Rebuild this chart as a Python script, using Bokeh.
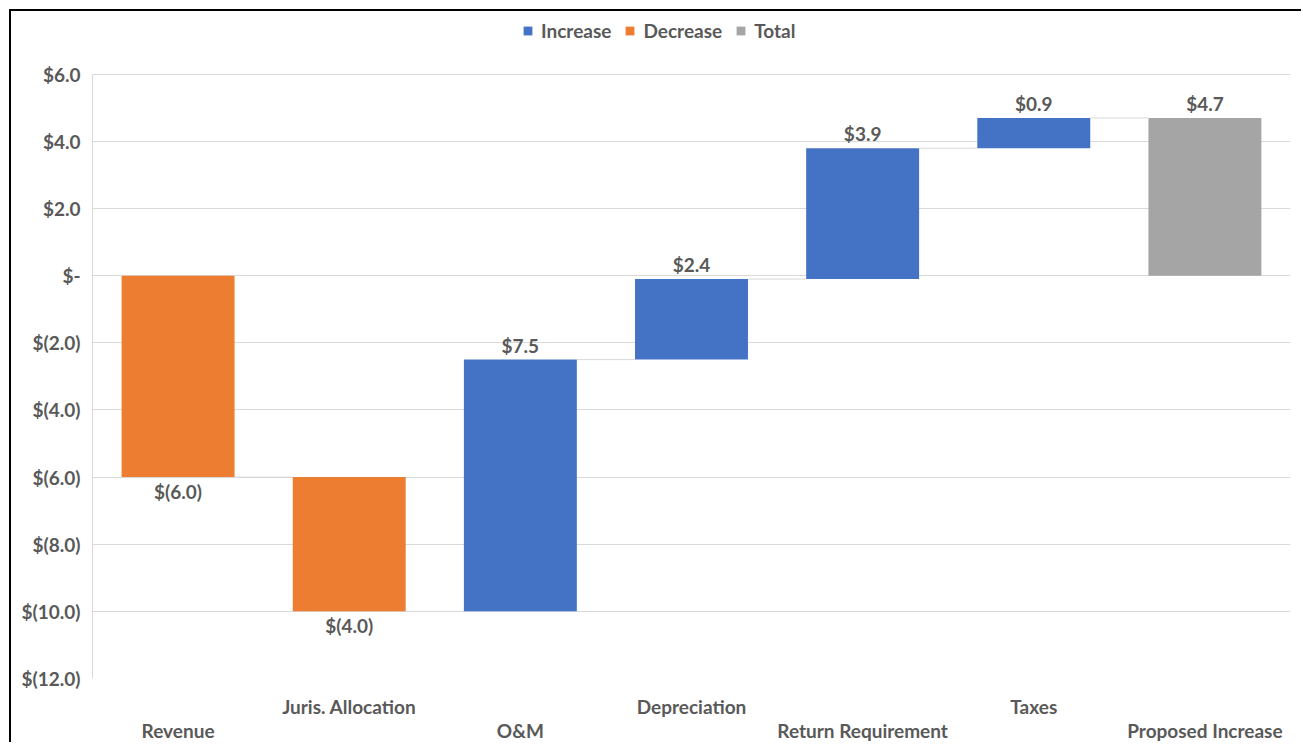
from bokeh.plotting import figure
from bokeh.models import ColumnDataSource, FixedTicker, LinearAxis, Range1d, Legend, LegendItem
from bokeh.core.properties import value
from bokeh.embed import file_html
from bokeh.resources import INLINE

# ---- data ----
categories = ["Revenue", "Juris. Allocation", "O&M", "Depreciation",
              "Return Requirement", "Taxes", "Proposed Increase"]
changes = [-6.0, -4.0, 7.5, 2.4, 3.9, 0.9]
total_value = 4.7
y_ticks = [6, 4, 2, 0, -2, -4, -6, -8, -10, -12]
y_tick_labels = ["$6.0", "$4.0", "$2.0", "$-", "$(2.0)", "$(4.0)", "$(6.0)",
                 "$(8.0)", "$(10.0)", "$(12.0)"]

BLUE, ORANGE, GRAY = "#4472C4", "#ED7D31", "#A5A5A5"
TXT = "#595959"
FONT = "Lato"
FS = "19px"
W = 0.66

def fmt(v):
    return "$(%.1f)" % abs(v) if v < 0 else "$%.1f" % v

# build waterfall geometry from data
xs, bottoms, tops, kinds = [], [], [], []
run = 0.0
for i, c in enumerate(changes):
    start, end = run, run + c
    xs.append(i + 0.5)
    bottoms.append(min(start, end))
    tops.append(max(start, end))
    kinds.append("inc" if c >= 0 else "dec")
    run = end
xs.append(len(changes) + 0.5)
bottoms.append(0.0)
tops.append(total_value)
kinds.append("tot")

y_lo, y_hi = min(y_ticks), max(y_ticks)
px_per_unit = 606 / (y_hi - y_lo)
head_px = 63  # room above the top gridline for the legend
p = figure(width=1292, height=733, output_backend="svg", toolbar_location=None,
           x_range=Range1d(0, len(categories)),
           y_range=Range1d(y_lo, y_hi + head_px / px_per_unit),
           min_border_left=81, min_border_right=13, min_border_top=0, min_border_bottom=64,
           margin=(9, 0, 0, 9),
           styles={"border-left": "2px solid black", "border-top": "2px solid black"})
p.xaxis.visible = False
p.xgrid.visible = False
p.outline_line_color = None
p.ygrid.grid_line_color = "#D9D9D9"
p.ygrid.ticker = FixedTicker(ticks=y_ticks)

ya = p.yaxis[0]
ya.ticker = FixedTicker(ticks=y_ticks)
ya.bounds = (y_lo, y_hi)
ya.major_label_overrides = {t: l for t, l in zip(y_ticks, y_tick_labels)}
ya.major_tick_line_color = None
ya.minor_tick_line_color = None
ya.axis_line_color = "#D9D9D9"
ya.major_label_text_font = FONT
ya.major_label_text_font_style = "bold"
ya.major_label_text_font_size = FS
ya.major_label_text_color = TXT
ya.major_label_standoff = 6

# staggered category labels: two bottom axes
upper_idx = [i for i in range(len(categories)) if i % 2 == 1]
lower_idx = [i for i in range(len(categories)) if i % 2 == 0]
for idx, standoff in ((upper_idx, 10), (lower_idx, -8)):
    ax = LinearAxis(ticker=FixedTicker(ticks=[i + 0.5 for i in idx]),
                    major_label_overrides={i + 0.5: categories[i] for i in idx})
    ax.major_tick_line_color = None
    ax.minor_tick_line_color = None
    ax.axis_line_color = None
    ax.major_label_text_font = FONT
    ax.major_label_text_font_style = "bold"
    ax.major_label_text_font_size = FS
    ax.major_label_text_color = TXT
    ax.major_label_standoff = standoff
    p.add_layout(ax, "below")

# connectors
cx0, cx1, cy = [], [], []
for i in range(len(xs) - 1):
    level = tops[i] if kinds[i] != "dec" else bottoms[i]
    cx0.append(xs[i] + W / 2)
    cx1.append(xs[i + 1] - W / 2)
    cy.append(level)
p.segment(x0=cx0, y0=cy, x1=cx1, y1=cy, line_color="#D9D9D9", line_width=1)

renderers = {}
for kind, color in (("inc", BLUE), ("dec", ORANGE), ("tot", GRAY)):
    sel = [i for i, k in enumerate(kinds) if k == kind]
    src = ColumnDataSource(dict(x=[xs[i] for i in sel], top=[tops[i] for i in sel],
                                bottom=[bottoms[i] for i in sel]))
    renderers[kind] = p.vbar(x="x", top="top", bottom="bottom", width=W, source=src,
                             fill_color=color, line_color=None)

# data labels
vals = changes + [total_value]
up = [i for i, k in enumerate(kinds) if k != "dec"]
dn = [i for i, k in enumerate(kinds) if k == "dec"]
for sel, key, base, off in ((up, tops, "bottom", -3), (dn, bottoms, "top", 3)):
    src = ColumnDataSource(dict(x=[xs[i] for i in sel], y=[key[i] for i in sel],
                                t=[fmt(vals[i]) for i in sel]))
    p.text(x="x", y="y", text="t", source=src, text_align="center", text_baseline=base,
           y_offset=off, text_font=value(FONT), text_font_style="bold",
           text_font_size=value(FS), text_color=TXT)

legend = Legend(items=[LegendItem(label="Increase", renderers=[renderers["inc"]]),
                       LegendItem(label="Decrease", renderers=[renderers["dec"]]),
                       LegendItem(label="Total", renderers=[renderers["tot"]])],
                orientation="horizontal", location=(430, 636))
legend.label_text_font = FONT
legend.label_text_font_style = "bold"
legend.label_text_font_size = FS
legend.label_text_color = TXT
legend.glyph_width = 11
legend.glyph_height = 11
legend.label_standoff = 8
legend.spacing = 13
legend.padding = 0
legend.margin = 0
legend.border_line_color = None
legend.background_fill_alpha = 0
p.add_layout(legend)

open("out.html", "w").write(file_html(p, INLINE))
